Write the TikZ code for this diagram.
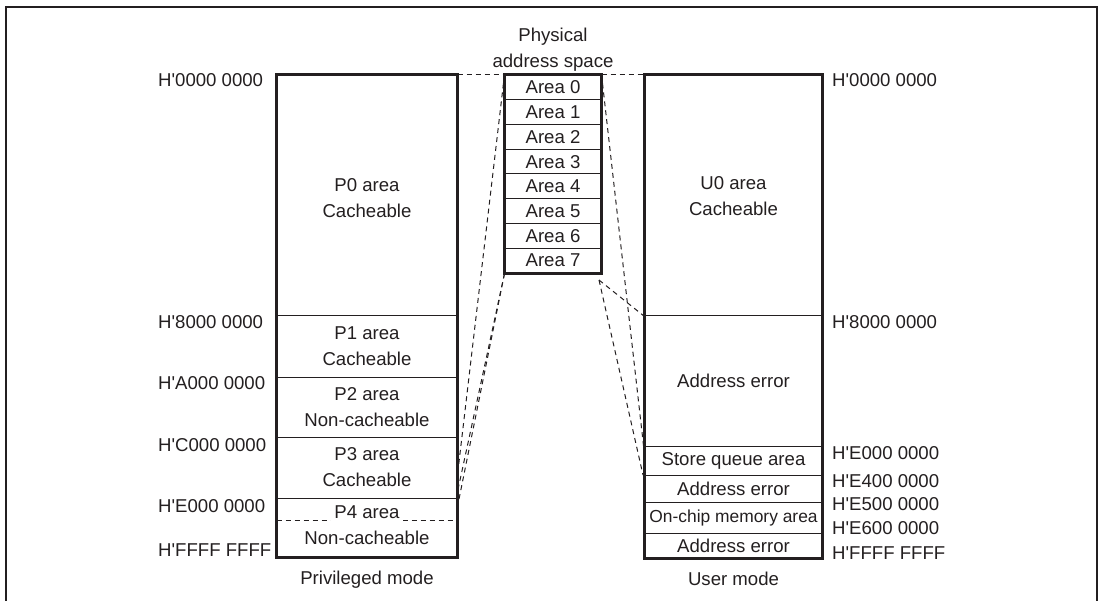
\documentclass[tikz,border=0pt]{standalone}
\usepackage{fontspec}
\setmainfont{Liberation Sans}[Ligatures=TeXOff]
\usepackage{tikz}
\definecolor{inkGray}{RGB}{35,31,32}

\tikzset{
  lbl/.style={font=\fontsize{18.6}{26}\selectfont, text=inkGray, align=center},
  addr/.style={lbl, anchor=west, inner sep=0pt},
  region/.style={lbl, draw=inkGray, line width=1pt, inner sep=0pt},
  areabox/.style={region, minimum width=96pt, minimum height=24.75pt},
  outline/.style={draw=inkGray, line width=2.4pt},
  link/.style={draw=inkGray, dash pattern=on 5pt off 4pt, line width=1pt}
}

\begin{document}
\begin{tikzpicture}[x=1pt, y=-1pt]
  \useasboundingbox (0,0) rectangle (1102,601);

  % Frame, open at the bottom
  \draw[inkGray, line width=2.5pt] (6,601) -- (6,7) -- (1097,7) -- (1097,601);

  % Privileged mode column
  \begin{scope}[every node/.append style={region, minimum width=180pt}]
    \node[minimum height=241pt] (p0) at (367,195.5) {\\[-8pt]P0 area\\Cacheable};
    \node[minimum height=61pt] (p1) at (367,346.5) {P1 area\\Cacheable};
    \node[minimum height=60pt] (p2) at (367,407) {P2 area\\Non-cacheable};
    \node[minimum height=61pt] (p3) at (367,467.5) {P3 area\\Cacheable};
    \node[minimum height=59pt] (p4) at (367,527.5) {};
  \end{scope}
  \draw[link] (p4.west |- 0,520) -- (p4.east |- 0,520);
  \node[lbl, fill=white, inner xsep=3pt, inner ysep=4pt] (p4top) at (367,512) {P4 area};
  \node[lbl] (p4bot) at (367,538) {Non-cacheable};
  \draw[outline] (p0.north west) rectangle (p4.south east);
  \node[lbl] (privmode) at (367,580) {Privileged mode};

  % Physical address space
  \node[lbl] (phystitle) at (553,50) {Physical\\address space};
  \foreach \i in {0,...,7}
    \node[areabox] (area\i) at (553,87.375+\i*24.75) {Area \i};
  \draw[outline] (area0.north west) rectangle (area7.south east);

  % User mode column
  \begin{scope}[every node/.append style={region, minimum width=177pt}]
    \node[minimum height=241pt] (u0) at (733.5,195.5) {\\[-12pt]U0 area\\Cacheable};
    \node[minimum height=130pt] (uerrA) at (733.5,381) {Address error};
    \node[minimum height=29.7pt] (sq) at (733.5,460.85) {Store queue area};
    \node[minimum height=26.3pt] (uerrB) at (733.5,488.85) {Address error};
    \node[minimum height=31pt, font=\fontsize{17.4}{22}\selectfont] (ocm) at (733.5,517.5) {On-chip memory area};
    \node[minimum height=25pt] (uerrC) at (733.5,545.5) {Address error};
  \end{scope}
  \draw[outline] (u0.north west) rectangle (uerrC.south east);
  \node[lbl] (usermode) at (733.5,579) {User mode};

  % Address labels
  \node[addr] (la0) at (158,80) {H'0000 0000};
  \node[addr] (la8) at (158,322) {H'8000 0000};
  \node[addr] (laA) at (158,383) {H'A000 0000};
  \node[addr] (laC) at (158,445) {H'C000 0000};
  \node[addr] (laE) at (158,506) {H'E000 0000};
  \node[addr] (laF) at (158,550) {H'FFFF FFFF};

  \node[addr] (ra0) at (832,80) {H'0000 0000};
  \node[addr] (ra8) at (832,322) {H'8000 0000};
  \node[addr] (raE0) at (832,453) {H'E000 0000};
  \node[addr] (raE4) at (832,481) {H'E400 0000};
  \node[addr] (raE5) at (832,504) {H'E500 0000};
  \node[addr] (raE6) at (832,528) {H'E600 0000};
  \node[addr] (raF) at (832,553) {H'FFFF FFFF};

  % Mapping lines
  \coordinate (lA) at (457,479);
  \coordinate (lB) at (457,494);
  \coordinate (lC) at (457,509);
  \coordinate (sR) at (599,280);
  \coordinate (rA) at (644,450);
  \coordinate (rC) at (643,475);

  \draw[link] (p0.north east) -- (area0.north west);
  \draw[link] (area0.north east) -- (u0.north west);
  \draw[link] (area0.north west) -- (lA);
  \draw[link] (area7.south west) -- (lB);
  \draw[link] (area7.south west) -- (lC);
  \draw[link] (area0.north east) -- (rA);
  \draw[link] (sR) -- (u0.south west);
  \draw[link] (sR) -- (rC);
\end{tikzpicture}
\end{document}
